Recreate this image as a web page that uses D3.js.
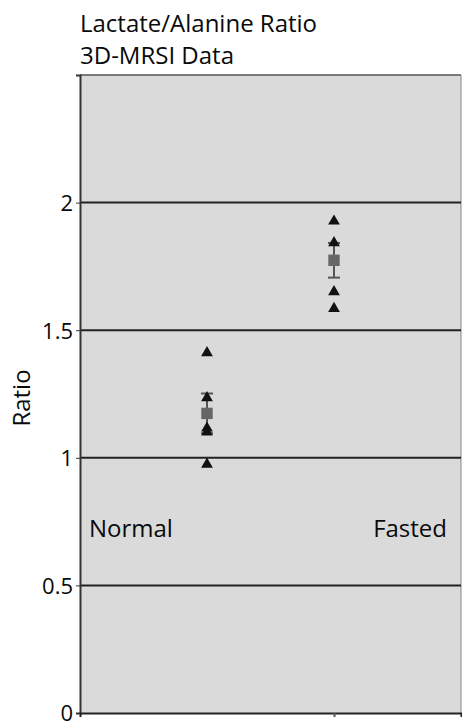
<!DOCTYPE html>
<html>
<head>
<meta charset="utf-8">
<script src="https://cdn.jsdelivr.net/npm/d3@7"></script>
<style>
  body { margin: 0; background: #fff; }
  text { font-family: "Open Sans", sans-serif; fill: #0a0a0a; }
</style>
</head>
<body>
<svg width="462" height="721"></svg>
<script>
// Groups and their x positions on the numeric axis
var groups = ["Normal", "Fasted"];
var groupX = [1, 2];

// Individual measurements (triangles)
var normalValues = [1.415, 1.239, 1.12, 1.105, 0.978];
var fastedValues = [1.931, 1.846, 1.654, 1.589];

// Mean and error (squares + error bars)
var means = [1.174, 1.774];
var errors = [0.078, 0.068];

var yTicks = [0, 0.5, 1, 1.5, 2];

var svg = d3.select("svg"),
    margin = { top: 75, right: 1, bottom: 8, left: 80 },
    width = +svg.attr("width") - margin.left - margin.right,
    height = +svg.attr("height") - margin.top - margin.bottom;

var x = d3.scaleLinear().domain([0, 3]).range([0, width]),
    y = d3.scaleLinear().domain([0, 2.5]).range([height, 0]);

var g = svg.append("g")
    .attr("transform", "translate(" + margin.left + "," + margin.top + ")");

// plot background
g.append("rect")
    .attr("width", width)
    .attr("height", height)
    .attr("fill", "#dadada");

// top and right border
g.append("line").attr("x1", 0).attr("x2", width).attr("y1", 0).attr("y2", 0)
    .attr("stroke", "#555").attr("stroke-width", 1.5);
g.append("line").attr("x1", width).attr("x2", width).attr("y1", 0).attr("y2", height)
    .attr("stroke", "#888").attr("stroke-width", 1);

// gridlines
g.selectAll(".grid")
    .data(yTicks.filter(function(d) { return d > 0; }))
    .enter().append("line")
    .attr("class", "grid")
    .attr("x1", 0).attr("x2", width)
    .attr("y1", function(d) { return y(d); })
    .attr("y2", function(d) { return y(d); })
    .attr("stroke", "#222")
    .attr("stroke-width", 2);

// y axis
var yAxis = d3.axisLeft(y).tickValues(yTicks).tickSize(4).tickPadding(3)
    .tickFormat(function(d) { return d; });
var ya = g.append("g").call(yAxis);
ya.select(".domain").attr("stroke", "#333").attr("stroke-width", 2);
ya.selectAll(".tick line").attr("stroke", "#333");
ya.selectAll("text").style("font-size", "22px").attr("fill", "#0a0a0a")
    .attr("dy", "0.36em");

// x axis (only one small tick, no labels)
var xAxis = d3.axisBottom(x).tickValues([2]).tickSize(4).tickFormat("");
var xa = g.append("g").attr("transform", "translate(0," + height + ")").call(xAxis);
xa.select(".domain").attr("stroke", "#222").attr("stroke-width", 2);
xa.selectAll(".tick line").attr("stroke", "#555").attr("stroke-width", 2);

// error bars
var capW = 12;
var err = g.selectAll(".err")
    .data(means.map(function(m, i) { return { x: groupX[i], m: m, e: errors[i] }; }))
    .enter().append("g").attr("class", "err")
    .attr("stroke", "#555").attr("stroke-width", 2);
err.append("line")
    .attr("x1", function(d) { return x(d.x); }).attr("x2", function(d) { return x(d.x); })
    .attr("y1", function(d) { return y(d.m + d.e); }).attr("y2", function(d) { return y(d.m - d.e); });
err.append("line")
    .attr("x1", function(d) { return x(d.x) - capW / 2; }).attr("x2", function(d) { return x(d.x) + capW / 2; })
    .attr("y1", function(d) { return y(d.m + d.e); }).attr("y2", function(d) { return y(d.m + d.e); });
err.append("line")
    .attr("x1", function(d) { return x(d.x) - capW / 2; }).attr("x2", function(d) { return x(d.x) + capW / 2; })
    .attr("y1", function(d) { return y(d.m - d.e); }).attr("y2", function(d) { return y(d.m - d.e); });

// mean squares
g.selectAll(".mean")
    .data(means)
    .enter().append("path")
    .attr("class", "mean")
    .attr("d", d3.symbol().type(d3.symbolSquare).size(130))
    .attr("transform", function(d, i) { return "translate(" + x(groupX[i]) + "," + y(d) + ")"; })
    .attr("fill", "#666");

// triangles for each measurement
var points = normalValues.map(function(v) { return { x: groupX[0], v: v }; })
    .concat(fastedValues.map(function(v) { return { x: groupX[1], v: v }; }));

g.selectAll(".pt")
    .data(points)
    .enter().append("path")
    .attr("class", "pt")
    .attr("d", d3.symbol().type(d3.symbolTriangle).size(60))
    .attr("transform", function(d) { return "translate(" + x(d.x) + "," + (y(d.v) + 1) + ")"; })
    .attr("fill", "#111");

// group labels inside the plot
g.append("text")
    .attr("x", 9).attr("y", y(0.69))
    .style("font-size", "24px")
    .text(groups[0]);
g.append("text")
    .attr("x", width - 14).attr("y", y(0.69))
    .attr("text-anchor", "end")
    .style("font-size", "24px")
    .text(groups[1]);

// y label
svg.append("text")
    .attr("transform", "translate(30,398) rotate(-90)")
    .attr("text-anchor", "middle")
    .style("font-size", "24px")
    .text("Ratio");

// title
svg.append("text").attr("x", 80).attr("y", 32).style("font-size", "24px")
    .text("Lactate/Alanine Ratio");
svg.append("text").attr("x", 80).attr("y", 64).style("font-size", "24px")
    .text("3D-MRSI Data");
</script>
</body>
</html>
